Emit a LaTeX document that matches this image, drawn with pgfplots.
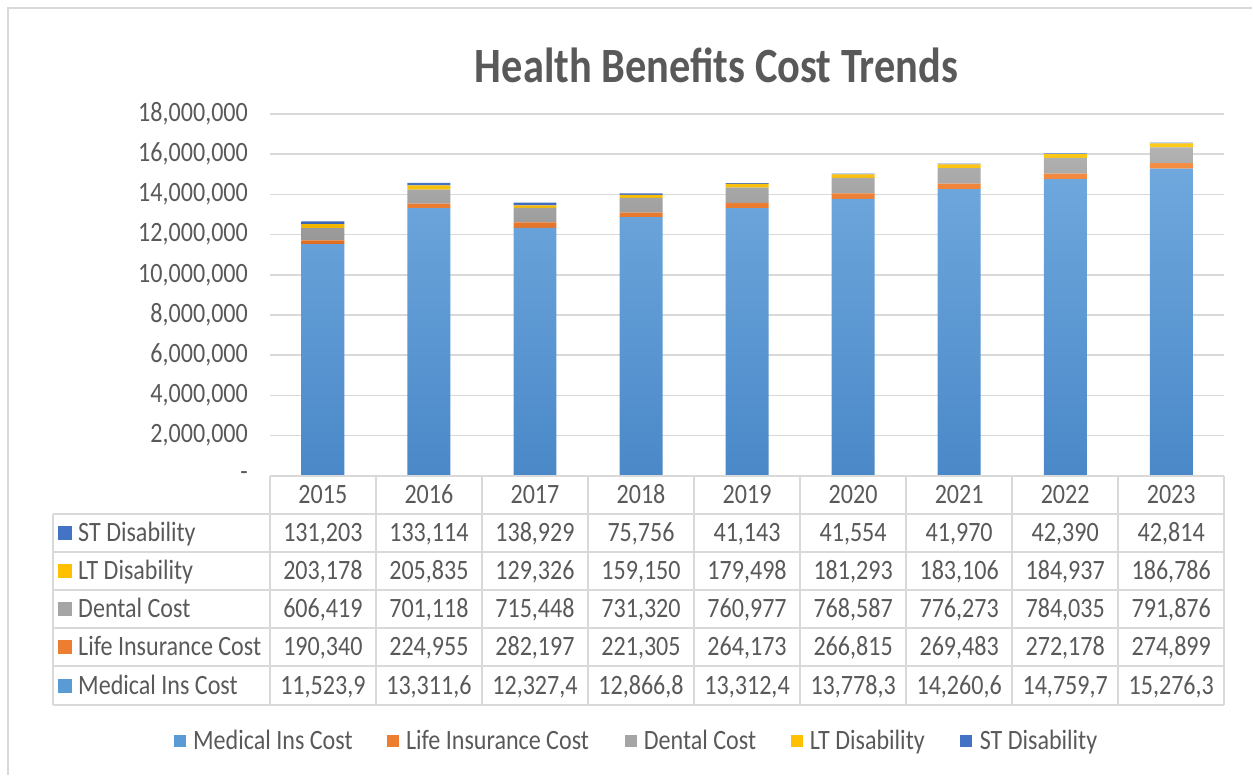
\documentclass[border=0pt]{standalone}
\usepackage{pgfplots}
\pgfplotsset{compat=1.18}
\usepackage{pgfplotstable}
\usepackage{fontspec}
\setmainfont{Carlito}[FakeStretch=0.86]
\definecolor{txt}{HTML}{595959}
\definecolor{gridc}{HTML}{D9D9D9}
\definecolor{med}{HTML}{5B9BD5}
\definecolor{medT}{HTML}{6FA8DD}
\definecolor{medB}{HTML}{4A88C8}
\definecolor{life}{HTML}{ED7D31}
\definecolor{lifeT}{HTML}{F48E45}
\definecolor{lifeB}{HTML}{E06E22}
\definecolor{dent}{HTML}{A5A5A5}
\definecolor{dentT}{HTML}{B2B2B2}
\definecolor{dentB}{HTML}{989898}
\definecolor{ltd}{HTML}{FFC000}
\definecolor{ltdT}{HTML}{FFCA1A}
\definecolor{ltdB}{HTML}{F2B500}
\definecolor{std}{HTML}{4472C4}
\definecolor{stdT}{HTML}{527FCE}
\definecolor{stdB}{HTML}{3A66B8}

\pgfplotstableread{
x med life dental lt st
0 11523900 190340 606419 203178 131203
1 13311600 224955 701118 205835 133114
2 12327400 282197 715448 129326 138929
3 12866800 221305 731320 159150 75756
4 13312400 264173 760977 179498 41143
5 13778300 266815 768587 181293 41554
6 14260600 269483 776273 183106 41970
7 14759700 272178 784035 184937 42390
8 15276300 274899 791876 186786 42814
}\data

\newcommand{\tf}{\fontsize{21}{25}\selectfont}

\begin{document}
\begin{tikzpicture}
\begin{scope}[x=0.75pt,y=-0.75pt]
\useasboundingbox (0,0) rectangle (1253,775);
\end{scope}
\begin{axis}[
  at={(202.5pt,-357pt)}, anchor=south west,
  scale only axis, width=716.25pt, height=271.5pt,
  xmin=-0.5, xmax=8.5, ymin=0, ymax=18000000,
  ybar stacked, bar width=32.25pt,
  axis line style={draw=none}, tick style={draw=none},
  xtick=\empty,
  ytick={0,2000000,4000000,6000000,8000000,10000000,12000000,14000000,16000000,18000000},
  yticklabels={{-},{2,000,000},{4,000,000},{6,000,000},{8,000,000},{10,000,000},{12,000,000},{14,000,000},{16,000,000},{18,000,000}},
  scaled y ticks=false,
  ymajorgrids, grid style={draw=gridc, line width=1.2pt},
  yticklabel style={font=\tf, text=txt, xshift=-13pt},
]
\addplot[draw=none, top color=medT, bottom color=medB] table[x=x,y=med]{\data};
\addplot[draw=none, top color=lifeT, bottom color=lifeB] table[x=x,y=life]{\data};
\addplot[draw=none, top color=dentT, bottom color=dentB] table[x=x,y=dental]{\data};
\addplot[draw=none, top color=ltdT, bottom color=ltdB] table[x=x,y=lt]{\data};
\addplot[draw=none, top color=stdT, bottom color=stdB] table[x=x,y=st]{\data};
\end{axis}
\begin{scope}[x=0.75pt,y=-0.75pt]
% outer border
\draw[gridc, line width=1pt] (8,775) -- (8,8) -- (1253,8);
% title
\node[txt, font=\bfseries\fontsize{37}{44}\selectfont, anchor=base] at (717,83) {Health Benefits Cost Trends};
% table grid
\begin{scope}[gridc, line width=1.5pt]
\draw (270,476) -- (1225,476);
\foreach \yy in {514,552,590,628,666,705} \draw (53,\yy) -- (1225,\yy);
\draw (53,514) -- (53,705);
\foreach \k in {0,...,9} \draw ({270+106.1*\k},476) -- ({270+106.1*\k},705);
\end{scope}
\tikzset{cell/.style={txt, font=\tf, anchor=base, inner sep=0pt}}
% header
\foreach \t [count=\i from 0] in {2015,2016,2017,2018,2019,2020,2021,2022,2023}
  \node[cell] at ({323.05+106.1*\i},504) {\t};
% rows
\foreach \v [count=\i from 0] in {{131,203},{133,114},{138,929},{75,756},{41,143},{41,554},{41,970},{42,390},{42,814}}
  \node[cell] at ({323.05+106.1*\i},542) {\v};
\foreach \v [count=\i from 0] in {{203,178},{205,835},{129,326},{159,150},{179,498},{181,293},{183,106},{184,937},{186,786}}
  \node[cell] at ({323.05+106.1*\i},580) {\v};
\foreach \v [count=\i from 0] in {{606,419},{701,118},{715,448},{731,320},{760,977},{768,587},{776,273},{784,035},{791,876}}
  \node[cell] at ({323.05+106.1*\i},618) {\v};
\foreach \v [count=\i from 0] in {{190,340},{224,955},{282,197},{221,305},{264,173},{266,815},{269,483},{272,178},{274,899}}
  \node[cell] at ({323.05+106.1*\i},656) {\v};
\foreach \v [count=\i from 0] in {{11,523,9},{13,311,6},{12,327,4},{12,866,8},{13,312,4},{13,778,3},{14,260,6},{14,759,7},{15,276,3}}
  \node[cell] at ({323.05+106.1*\i},695) {\v};
% row labels
\foreach \yy/\c/\t in {533/std/ST Disability,571/ltd/LT Disability,609/dent/Dental Cost,647/life/Life Insurance Cost,686/med/Medical Ins Cost}{
  \fill[\c] (58,\yy-7) rectangle (72,\yy+7);
  \node[cell, anchor=base west] at (78,\yy+9) {\t};
}
% legend
\foreach \kx/\c/\t in {174/med/Medical Ins Cost,387/life/Life Insurance Cost,625/dent/Dental Cost,791/ltd/LT Disability,961/std/ST Disability}{
  \fill[\c] (\kx,735) rectangle (\kx+12,747);
  \node[cell, anchor=base west] at (\kx+19,750) {\t};
}
\end{scope}
\end{tikzpicture}
\end{document}
